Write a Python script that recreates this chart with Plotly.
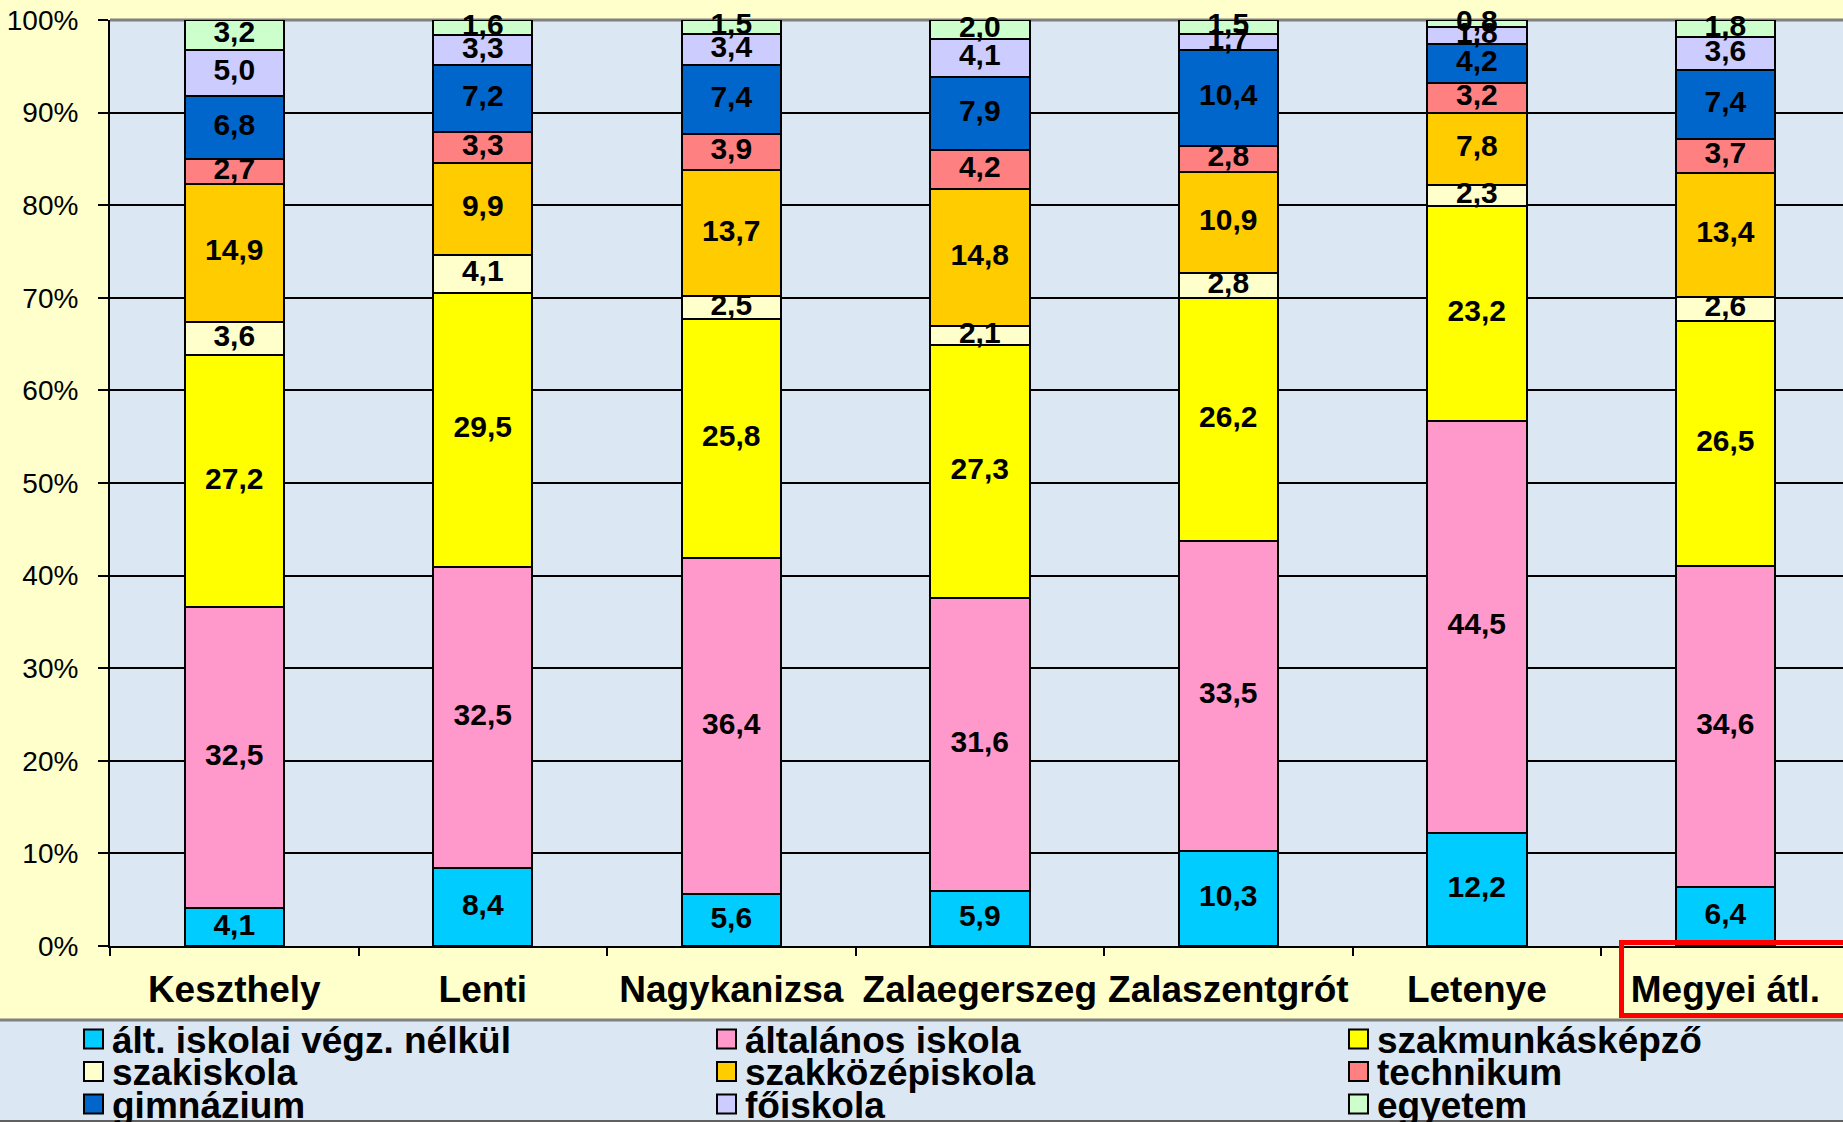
import plotly.graph_objects as go

# települések (a diagram kategóriái)
categories = ["Keszthely", "Lenti", "Nagykanizsa", "Zalaegerszeg", "Zalaszentgrót", "Letenye", "Megyei átl."]

# iskolai végzettség szerinti megoszlás (%), alulról felfelé
alt_nelkul = [4.1, 8.4, 5.6, 5.9, 10.3, 12.2, 6.4]
altalanos = [32.5, 32.5, 36.4, 31.6, 33.5, 44.5, 34.6]
szakmunkas = [27.2, 29.5, 25.8, 27.3, 26.2, 23.2, 26.5]
szakiskola = [3.6, 4.1, 2.5, 2.1, 2.8, 2.3, 2.6]
szakkozep = [14.9, 9.9, 13.7, 14.8, 10.9, 7.8, 13.4]
technikum = [2.7, 3.3, 3.9, 4.2, 2.8, 3.2, 3.7]
gimnazium = [6.8, 7.2, 7.4, 7.9, 10.4, 4.2, 7.4]
foiskola = [5.0, 3.3, 3.4, 4.1, 1.7, 1.8, 3.6]
egyetem = [3.2, 1.6, 1.5, 2.0, 1.5, 0.8, 1.8]

series_names = ["ált. iskolai végz. nélkül", "általános iskola", "szakmunkásképző",
                "szakiskola", "szakközépiskola", "technikum",
                "gimnázium", "főiskola", "egyetem"]
series_values = [alt_nelkul, altalanos, szakmunkas, szakiskola, szakkozep,
                 technikum, gimnazium, foiskola, egyetem]
series_colors = ["#00CCFF", "#FF99CC", "#FFFF00", "#FFFFCC", "#FFCC00",
                 "#FF8080", "#0066CC", "#CCCCFF", "#CCFFCC"]

y_ticks = list(range(0, 101, 10))
y_ticktext = [f"{v}%" for v in y_ticks]

W, H = 1843, 1122
ML, MT, MB = 110, 20, 176
PW, PH = W - ML, H - MT - MB

FONT = "Liberation Sans, Arial, sans-serif"


def px(x):
    return (x - ML) / PW


def py(y):
    return (H - MB - y) / PH


def fmt(v):
    return f"{v:.1f}".replace(".", ",")


fig = go.Figure()

for name, vals, col in zip(series_names, series_values, series_colors):
    fig.add_trace(go.Bar(
        x=categories, y=vals, name=name,
        marker=dict(color=col, line=dict(color="black", width=2)),
        hoverinfo="x+y+name",
    ))

# adatfeliratok külön, hogy minden sáv fölött legyenek
totals = [sum(s[i] for s in series_values) for i in range(len(categories))]
cum = [0.0] * len(categories)
for name, vals in zip(series_names, series_values):
    mids = []
    for i, v in enumerate(vals):
        mids.append((cum[i] + v / 2) / totals[i] * 100)
        cum[i] += v
    fig.add_trace(go.Scatter(
        x=categories, y=mids, mode="text", text=[fmt(v) for v in vals],
        textposition="middle center", cliponaxis=False, hoverinfo="skip",
        textfont=dict(family=FONT, size=30, color="black", weight="bold"),
        showlegend=False,
    ))

shapes = [
    # jelmagyarázat háttere
    dict(type="rect", xref="paper", yref="paper", x0=px(0), x1=px(W), y0=py(H), y1=py(1020),
         fillcolor="#DCE7F4", line=dict(width=0), layer="below"),
    dict(type="line", xref="paper", yref="paper", x0=px(0), x1=px(W), y0=py(1020), y1=py(1020),
         line=dict(color="#808080", width=3)),
    dict(type="line", xref="paper", yref="paper", x0=px(0), x1=px(W), y0=py(1121), y1=py(1121),
         line=dict(color="#606060", width=2)),
    # felső keret
    dict(type="line", xref="paper", yref="paper", x0=0, x1=1, y0=1, y1=1,
         line=dict(color="#808080", width=3), layer="between"),
    # piros keret a megyei átlag körül
    dict(type="rect", xref="paper", yref="paper", x0=px(1621.5), x1=px(W + 10), y0=py(1015.5), y1=py(942.5),
         line=dict(color="#FF0000", width=5)),
]

annotations = []
col_x = [84, 717, 1349]
row_y = [1039, 1071.5, 1104]
for k, (name, col) in enumerate(zip(series_names, series_colors)):
    cx = col_x[k % 3]
    cy = row_y[k // 3]
    shapes.append(dict(type="rect", xref="paper", yref="paper",
                       x0=px(cx), x1=px(cx + 19), y0=py(cy + 9.5), y1=py(cy - 9.5),
                       fillcolor=col, line=dict(color="black", width=2)))
    annotations.append(dict(xref="paper", yref="paper", x=px(cx + 26), y=py(cy + 1),
                            text=name, showarrow=False, xanchor="left", yanchor="middle",
                            font=dict(family=FONT, size=37, color="black", weight="bold")))

fig.update_layout(
    width=W, height=H,
    margin=dict(l=ML, r=0, t=MT, b=MB, pad=0, autoexpand=False),
    paper_bgcolor="#FFFFCC", plot_bgcolor="#DCE7F4",
    barmode="stack", barnorm="percent", bargap=0.6,
    showlegend=False,
    shapes=shapes, annotations=annotations,
    xaxis=dict(
        type="category", range=[-0.5, 6.4735], automargin=False, tickangle=0,
        showline=True, linecolor="black", linewidth=2,
        ticks="outside", tickson="boundaries", ticklen=8, tickwidth=2, tickcolor="black",
        tickfont=dict(family=FONT, size=37, color="black", weight="bold"),
        ticklabelstandoff=10,
        showgrid=False, fixedrange=True,
    ),
    yaxis=dict(
        range=[0, 100], tickmode="array", tickvals=y_ticks, ticktext=y_ticktext,
        automargin=False,
        showline=True, linecolor="black", linewidth=2,
        ticks="outside", ticklen=10, tickwidth=2, tickcolor="black",
        tickfont=dict(family=FONT, size=28, color="black"),
        ticklabelstandoff=14,
        showgrid=True, gridcolor="black", gridwidth=2,
        zeroline=False, fixedrange=True,
    ),
)

fig.write_html("out.html", config={"displayModeBar": False},
               post_script="document.body.style.margin='0';")
